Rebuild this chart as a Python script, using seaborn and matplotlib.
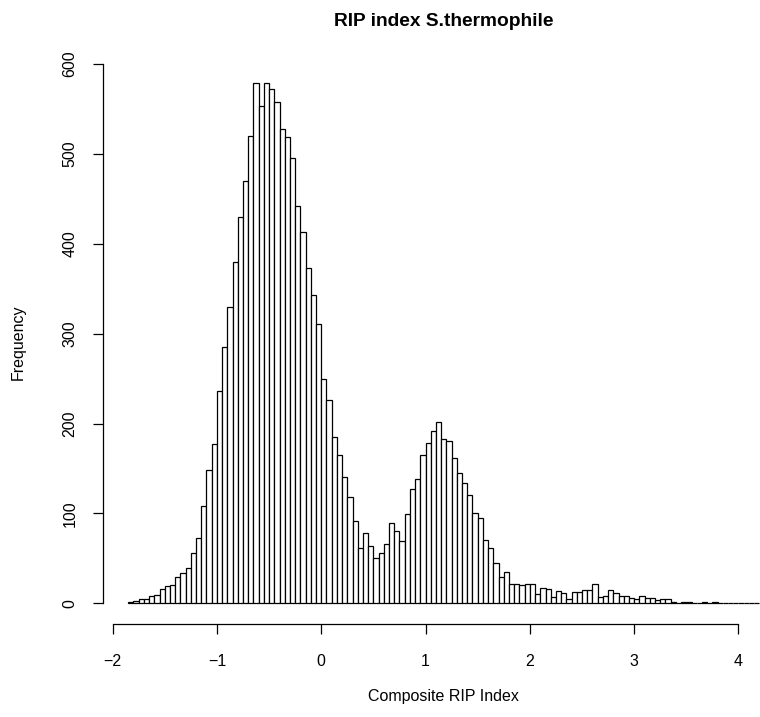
import numpy as np
import pandas as pd
import seaborn as sns
import matplotlib.pyplot as plt

# histogram bins: width 0.05 starting at -1.85
bin_start = -1.85
bin_width = 0.05
counts = [2, 3, 5, 5, 8, 9, 16, 19, 20, 29,
          34, 39, 56, 73, 108, 148, 177, 236, 285, 330,
          380, 430, 470, 520, 579, 553, 579, 572, 558, 528,
          519, 495, 442, 413, 373, 343, 311, 249, 226, 185,
          165, 140, 118, 92, 62, 78, 64, 50, 56, 66,
          89, 80, 69, 99, 127, 138, 165, 178, 192, 202,
          183, 181, 162, 145, 134, 121, 101, 95, 71, 62,
          45, 29, 35, 22, 21, 20, 21, 21, 10, 17,
          16, 7, 14, 11, 5, 13, 13, 15, 15, 22,
          7, 8, 15, 12, 8, 8, 6, 5, 8, 6,
          6, 4, 5, 5, 1, 0, 2, 2, 0, 0,
          2, 0, 2, 0, 0, 0, 0, 0, 0, 0, 0]
x_ticks = [-2, -1, 0, 1, 2, 3, 4]
y_ticks = [0, 100, 200, 300, 400, 500, 600]

edges = np.round(bin_start + bin_width * np.arange(len(counts) + 1), 2)
df = pd.DataFrame({'mid': (edges[:-1] + edges[1:]) / 2, 'n': counts})

sns.set_style('ticks')
plt.rcParams['font.family'] = ['Liberation Sans', 'DejaVu Sans']
plt.rcParams['text.color'] = 'black'
plt.rcParams['axes.labelcolor'] = 'black'

W, H = 760, 717
fig = plt.figure(figsize=(W / 100, H / 100), dpi=100)
# plot region as in the R picture (right side runs past the image edge)
left, right, top, bottom = 103, 784.6, 60.1, 624.2
ax = fig.add_axes([left / W, 1 - bottom / H, (right - left) / W, (bottom - top) / H])

sns.histplot(data=df, x='mid', weights='n', bins=edges.tolist(), stat='count',
             color='white', edgecolor='black', linewidth=0.9, alpha=1, ax=ax)

ax.set_xlim(-2.092, 4.442)
ax.set_ylim(-23.2, 604.2)
ax.set_xticks(x_ticks)
ax.set_yticks(y_ticks)
for s in ['top', 'right']:
    ax.spines[s].set_visible(False)
ax.spines['bottom'].set_bounds(-2, 4)
ax.spines['left'].set_bounds(0, 600)
for s in ['bottom', 'left']:
    ax.spines[s].set_linewidth(0.9)
    ax.spines[s].set_color('black')
ax.tick_params(axis='both', direction='out', length=7.2, width=0.9, colors='black', labelsize=11.5)
ax.tick_params(axis='x', pad=14)
ax.tick_params(axis='y', pad=11)
for lab in ax.get_yticklabels():
    lab.set_rotation(90)
    lab.set_va('center')

ax.set_xlabel('Composite RIP Index', fontsize=11.5)
ax.set_ylabel('Frequency', fontsize=11.5)
ax.xaxis.set_label_coords(0.5, (bottom - 697) / (bottom - top))
ax.xaxis.label.set_va('center')
ax.yaxis.set_label_coords((18 - left) / (right - left), 0.5)
ax.yaxis.label.set_va('center')
fig.text((left + right) / 2 / W, 1 - 22 / H, 'RIP index S.thermophile',
         fontsize=13.8, fontweight='bold', ha='center', va='center')

plt.savefig('out.png', dpi=100)
